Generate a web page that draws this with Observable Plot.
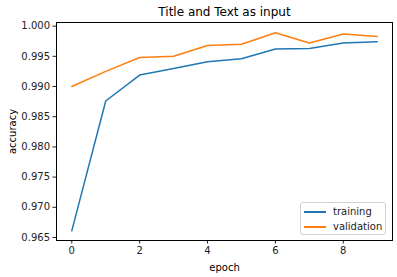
<!DOCTYPE html>
<html>
<head>
<meta charset="utf-8">
<script src="https://cdn.jsdelivr.net/npm/d3@7"></script>
<script src="https://cdn.jsdelivr.net/npm/@observablehq/plot@0.6"></script>
<style>
  html, body { margin: 0; padding: 0; background: #fff; }
  #wrap { position: relative; width: 397px; height: 277px; font-family: "DejaVu Sans", sans-serif; }
  #legend { position: absolute; right: 11px; bottom: 42px; width: 84px; height: 31px;
    border: 1px solid #d0d0d0; border-radius: 3px; background: rgba(255,255,255,0.8);
    font-size: 10px; color: #222; box-sizing: content-box; }
  .row { display: flex; align-items: center; height: 15px; margin-left: 3px; }
  .row:first-child { margin-top: 1px; }
  .sw { width: 22px; height: 2px; margin-right: 7px; }
</style>
</head>
<body>
<div id="wrap"></div>
<script>
const title = "Title and Text as input";
const xLabel = "epoch";
const yLabel = "accuracy";
const seriesNames = ["training", "validation"];
const seriesColors = ["#1f77b4", "#ff7f0e"];
const epochs = [0, 1, 2, 3, 4, 5, 6, 7, 8, 9];
const training = [0.9661, 0.9876, 0.9919, 0.9930, 0.9941, 0.9946, 0.9962, 0.9963, 0.9972, 0.9974];
const validation = [0.9900, 0.9925, 0.9948, 0.9950, 0.9968, 0.9970, 0.9989, 0.9972, 0.9987, 0.9983];
const xTicks = [0, 2, 4, 6, 8];
const yTicks = [0.965, 0.970, 0.975, 0.980, 0.985, 0.990, 0.995, 1.000];

const rows = [];
epochs.forEach((e, i) => {
  rows.push({epoch: e, acc: training[i], series: seriesNames[0]});
});
epochs.forEach((e, i) => {
  rows.push({epoch: e, acc: validation[i], series: seriesNames[1]});
});

const chart = Plot.plot({
  width: 397,
  height: 277,
  marginLeft: 56,
  marginRight: 5,
  marginTop: 22,
  marginBottom: 37,
  style: {fontFamily: "DejaVu Sans, sans-serif", fontSize: "10px", color: "#222", background: "#fff"},
  x: {domain: [-0.45, 9.45]},
  y: {domain: [0.9645, 1.0006]},
  color: {domain: seriesNames, range: seriesColors},
  marks: [
    Plot.axisX({ticks: xTicks, tickFormat: d3.format("d"), tickSize: 3.5, tickPadding: 3, label: null, fontSize: 10}),
    Plot.axisY({ticks: yTicks, tickFormat: d3.format(".3f"), tickSize: 3.5, tickPadding: 3, label: null, fontSize: 10}),
    Plot.lineY(rows, {x: "epoch", y: "acc", stroke: "series", z: "series", strokeWidth: 1.5}),
    Plot.frame({stroke: "#000", strokeWidth: 1}),
    Plot.text([title], {frameAnchor: "top", lineAnchor: "middle", dy: -10, fontSize: 12, fill: "#000"}),
    Plot.text([xLabel], {frameAnchor: "bottom", lineAnchor: "middle", dy: 27, fontSize: 10, fill: "#000"}),
    Plot.text([yLabel], {frameAnchor: "left", textAnchor: "middle", lineAnchor: "middle", dx: -44, rotate: -90, fontSize: 10, fill: "#000"})
  ]
});

const wrap = document.getElementById("wrap");
wrap.appendChild(chart);
const legend = document.createElement("div");
legend.id = "legend";
seriesNames.forEach((name, i) => {
  const row = document.createElement("div");
  row.className = "row";
  const sw = document.createElement("div");
  sw.className = "sw";
  sw.style.background = seriesColors[i];
  const lab = document.createElement("span");
  lab.textContent = name;
  row.appendChild(sw);
  row.appendChild(lab);
  legend.appendChild(row);
});
wrap.appendChild(legend);
</script>
</body>
</html>
